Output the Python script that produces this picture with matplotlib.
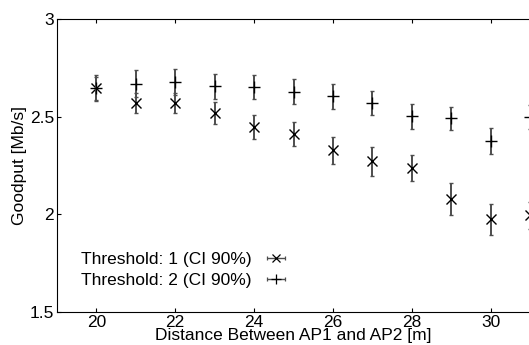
import numpy as np
import matplotlib
matplotlib.use('Agg')
import matplotlib.pyplot as plt

plt.rcParams['font.family'] = ['Liberation Sans', 'DejaVu Sans']

distancia = [20, 21, 22, 23, 24, 25, 26, 27, 28, 29, 30, 31]
# Threshold 1 (marcador x)
goodput_t1 = [2.645, 2.571, 2.570, 2.520, 2.447, 2.410, 2.328, 2.271, 2.236, 2.077, 1.974, 1.995]
ci_t1 = [0.060, 0.051, 0.050, 0.057, 0.063, 0.061, 0.068, 0.073, 0.067, 0.082, 0.078, 0.070]
# Threshold 2 (marcador +)
goodput_t2 = [2.648, 2.669, 2.677, 2.655, 2.652, 2.628, 2.604, 2.571, 2.502, 2.491, 2.377, 2.498]
ci_t2 = [0.066, 0.068, 0.068, 0.062, 0.062, 0.063, 0.064, 0.061, 0.065, 0.057, 0.067, 0.060]

etiquetas = ['Threshold: 1 (CI 90%)', 'Threshold: 2 (CI 90%)']

fs = 12.5
fig = plt.figure(figsize=(5.29, 3.45), dpi=100)
ax = fig.add_axes([57 / 529, 1 - 312 / 345, 473 / 529, 293 / 345])

gris = '#4d4d4d'
ax.errorbar(distancia, goodput_t1, yerr=ci_t1, fmt='none', ecolor=gris, elinewidth=1.4, capsize=1.5, capthick=1)
ax.plot(distancia, goodput_t1, 'x', color='k', ms=7, mew=1.0)
ax.errorbar(distancia, goodput_t2, yerr=ci_t2, fmt='none', ecolor=gris, elinewidth=1.4, capsize=1.5, capthick=1)
ax.plot(distancia, goodput_t2, '+', color='k', ms=8.5, mew=1.0)

# handles del legend con barra horizontal (estilo matlab)
h1 = ax.errorbar([np.nan], [np.nan], xerr=[1], fmt='x', color='k', ecolor=gris, ms=5.5, mew=0.9, elinewidth=1, capsize=1.5)
h2 = ax.errorbar([np.nan], [np.nan], xerr=[1], fmt='+', color='k', ecolor=gris, ms=7, mew=0.9, elinewidth=1, capsize=1.5)
ax.legend([h1, h2], etiquetas, loc='lower left', bbox_to_anchor=(0.018, 0.03), frameon=False,
          markerfirst=False, fontsize=fs, handlelength=1.3, handletextpad=0.75, labelspacing=0.32)

ax.set_xlim(19, 31)
ax.set_ylim(1.5, 3)
ax.set_xticks([20, 22, 24, 26, 28, 30])
ax.set_yticks([1.5, 2, 2.5, 3])
ax.set_yticklabels(['1.5', '2', '2.5', '3'])
ax.tick_params(direction='in', top=True, right=False, labelsize=fs, length=3, pad=2)
ax.spines['right'].set_visible(False)
ax.set_xlabel('Distance Between AP1 and AP2 [m]', fontsize=fs, labelpad=-1)
ax.set_ylabel('Goodput [Mb/s]', fontsize=fs, labelpad=2)

fig.savefig('out.png', dpi=100)
